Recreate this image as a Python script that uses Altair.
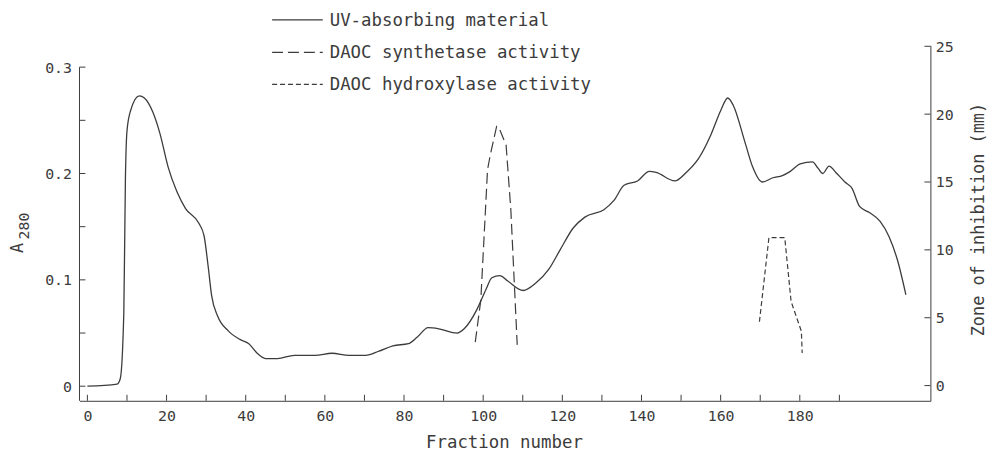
import altair as alt
import pandas as pd

# ---------------- data ----------------
uv_fraction = [
    0, 7.5, 8.3, 9.2, 9.6, 10.0, 10.9, 13.1, 14.4, 16.5,
    18.3, 20.4, 22.6, 24.8, 28.2, 29.5, 30.5, 31.4, 32.9, 35.6,
    38.5, 40.8, 42.9, 45.0, 48.0, 52.3, 57.5, 61.8, 66.1, 70.3,
    73.7, 77.2, 81.1, 83.3, 86.1, 88.8, 93.4, 95.2, 98.4, 100.7,
    102.2, 104.2, 106.2, 110.1, 113.3, 116.6, 119.4, 122.8, 125.7, 130.5,
    133.1, 135.6, 139.0, 142.0, 143.7, 148.4, 151.3, 154.4, 157.6, 160.0,
    161.8, 163.2, 166.1, 168.1, 170.5, 173.2, 175.6, 177.6, 180.1, 183.2,
    184.6, 185.8, 187.4, 189.1, 191.4, 193.2, 195.1, 197.7, 200.3, 202.5,
    204.8, 206.8,
]
uv_a280 = [
    0, 0.002, 0.007, 0.069, 0.194, 0.240, 0.259, 0.273, 0.271, 0.258,
    0.238, 0.206, 0.183, 0.167, 0.153, 0.141, 0.113, 0.085, 0.066, 0.052,
    0.044, 0.040, 0.031, 0.026, 0.026, 0.029, 0.029, 0.031, 0.029, 0.029,
    0.033, 0.038, 0.040, 0.046, 0.055, 0.054, 0.050, 0.054, 0.072, 0.091,
    0.102, 0.104, 0.099, 0.090, 0.097, 0.110, 0.128, 0.149, 0.159, 0.166,
    0.175, 0.189, 0.193, 0.202, 0.201, 0.193, 0.201, 0.214, 0.237, 0.259,
    0.271, 0.264, 0.230, 0.206, 0.192, 0.196, 0.198, 0.202, 0.209, 0.211,
    0.205, 0.200, 0.207, 0.201, 0.192, 0.186, 0.169, 0.163, 0.155, 0.141,
    0.117, 0.086,
]
syn_fraction = [98.0, 99.4, 101.1, 101.8, 103.4, 104.0, 105.8, 107.0, 108.6]
syn_zone = [3.2, 6.3, 15.9, 17.0, 19.1, 19.0, 17.7, 12.9, 3.0]
hyd_fraction = [169.8, 172.2, 176.2, 177.8, 180.4, 180.6]
hyd_zone = [4.7, 10.9, 10.9, 6.2, 4.0, 2.4]

x_label_values = [0, 20, 40, 60, 80, 100, 120, 140, 160, 180]
x_tick_values = [0, 10, 20, 30, 40, 50, 60, 70, 80, 90, 100, 110, 120, 130, 140, 150, 160, 170, 180, 190]
left_label_values = [0, 0.1, 0.2, 0.3]
left_tick_values = [0, 0.05, 0.1, 0.15, 0.2, 0.25, 0.3]
right_label_values = [0, 5, 10, 15, 20, 25]
legend_labels = ["UV-absorbing material", "DAOC synthetase activity", "DAOC hydroxylase activity"]
x_title = "Fraction number"
right_title = "Zone of inhibition (mm)"
left_title_main = "A"
left_title_sub = "280"

# ---------------- styles ----------------
W, H = 857, 358
FONT = "DejaVu Sans Mono"
INK = "#3c3c3c"
X_DOMAIN = [-2, 213]
LEFT_DOMAIN = [-0.0137, 0.3205]
RIGHT_DOMAIN = [-1.12, 25.07]
TICK_LEN = 6
SYN_DASH = [11, 5]
HYD_DASH = [5, 3]
LEGEND_Y = [-25.7, 7, 39.3]
LEGEND_DASH = [[1, 0], SYN_DASH, HYD_DASH]

x_scale = alt.Scale(domain=X_DOMAIN, nice=False, zero=False)
left_scale = alt.Scale(domain=LEFT_DOMAIN, nice=False, zero=False)
right_scale = alt.Scale(domain=RIGHT_DOMAIN, nice=False, zero=False)

x_axis = alt.Axis(
    values=x_label_values, ticks=False, tickSize=0, grid=False,
    domainColor=INK, domainWidth=1,
    labelFont=FONT, labelFontSize=15, labelColor=INK, labelPadding=8,
    title=x_title, titleFont=FONT, titleFontSize=17.5, titleFontWeight="normal",
    titleColor=INK, titleX=W / 2 - 1, titleY=47, titleBaseline="alphabetic",
    titleAlign="center",
)
left_axis = alt.Axis(
    values=left_label_values, format="~g", ticks=False, tickSize=0, grid=False,
    domain=False, labelFont=FONT, labelFontSize=15, labelColor=INK,
    labelPadding=8, title=None,
)
right_axis = alt.Axis(
    orient="right", values=right_label_values, ticks=False, tickSize=0,
    grid=False, domainColor=INK, domainWidth=1,
    labelFont=FONT, labelFontSize=15, labelColor=INK, labelPadding=5,
    title=right_title, titleFont=FONT, titleFontSize=17, titleFontWeight="normal",
    titleColor=INK, titleAngle=270, titleX=48, titleY=175,
    titleBaseline="middle", titleAlign="center",
)

uv_df = pd.DataFrame({"f": uv_fraction, "a": uv_a280})
syn_df = pd.DataFrame({"f": syn_fraction, "z": syn_zone})
hyd_df = pd.DataFrame({"f": hyd_fraction, "z": hyd_zone})

X = alt.X("f:Q", scale=x_scale, axis=x_axis)
YL = alt.Y("a:Q", scale=left_scale, axis=left_axis)
YR = alt.Y("z:Q", scale=right_scale, axis=right_axis)

uv = alt.Chart(uv_df).mark_line(
    color=INK, strokeWidth=1.3, interpolate="monotone"
).encode(x=X, y=YL)

left_ticks = alt.Chart(pd.DataFrame({"a": left_tick_values})).mark_rule(
    color=INK, strokeWidth=1
).encode(y=YL, x=alt.value(0), x2=alt.value(TICK_LEN))

left_spine = alt.Chart(
    pd.DataFrame({"a": [left_tick_values[-1]], "a2": [LEFT_DOMAIN[0]]})
).mark_rule(color=INK, strokeWidth=1).encode(x=alt.value(0), y=YL, y2="a2:Q")

bottom_ticks = alt.Chart(pd.DataFrame({"f": x_tick_values})).mark_rule(
    color=INK, strokeWidth=1
).encode(x=X, y=alt.value(H), y2=alt.value(H - TICK_LEN))

legend_layers = []
for lab, ly, dash in zip(legend_labels, LEGEND_Y, LEGEND_DASH):
    one = pd.DataFrame({"t": [lab]})
    legend_layers.append(
        alt.Chart(one).mark_rule(color=INK, strokeWidth=1.2, strokeDash=dash)
        .encode(x=alt.value(194), x2=alt.value(245), y=alt.value(ly))
    )
    legend_layers.append(
        alt.Chart(one).mark_text(
            font=FONT, fontSize=17.5, color=INK, align="left", baseline="middle"
        ).encode(text="t:N", x=alt.value(252), y=alt.value(ly + 1))
    )

a_title = alt.Chart(pd.DataFrame({"t": [left_title_main]})).mark_text(
    font=FONT, fontSize=17, color=INK, angle=270, align="center", baseline="middle"
).encode(text="t:N", x=alt.value(-61.5), y=alt.value(204))
a_sub = alt.Chart(pd.DataFrame({"t": [left_title_sub]})).mark_text(
    font=FONT, fontSize=15, color=INK, angle=270, align="center", baseline="middle"
).encode(text="t:N", x=alt.value(-56), y=alt.value(182))

left_group = alt.layer(uv, left_ticks, left_spine, bottom_ticks, a_title, a_sub, *legend_layers)

syn = alt.Chart(syn_df).mark_line(color=INK, strokeWidth=1.2, strokeDash=SYN_DASH).encode(x=X, y=YR)
hyd = alt.Chart(hyd_df).mark_line(color=INK, strokeWidth=1.2, strokeDash=HYD_DASH).encode(x=X, y=YR)
right_ticks = alt.Chart(pd.DataFrame({"z": right_label_values})).mark_rule(
    color=INK, strokeWidth=1
).encode(y=YR, x=alt.value(W), x2=alt.value(W - TICK_LEN))

right_group = alt.layer(syn, hyd, right_ticks)

chart = (
    alt.layer(left_group, right_group)
    .resolve_scale(y="independent")
    .properties(
        width=W, height=H,
        autosize=alt.AutoSizeParams(type="none"),
        padding={"left": 72, "top": 36, "right": 57, "bottom": 53},
        background="white",
    )
    .configure_view(stroke=None)
)

chart.save("out.html", embed_options={"renderer": "svg", "actions": False})
